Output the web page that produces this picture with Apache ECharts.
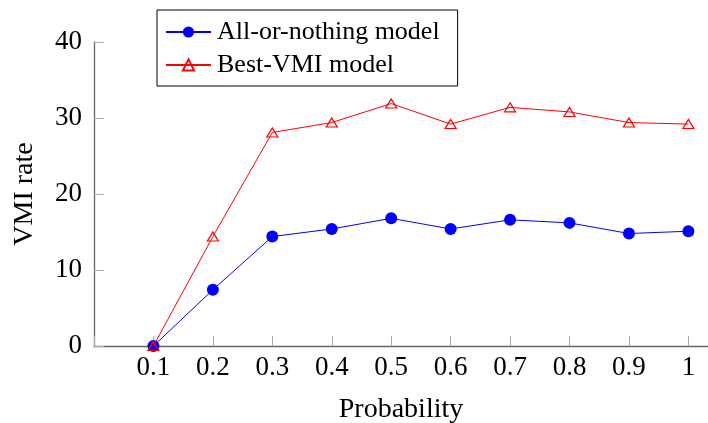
<!DOCTYPE html>
<html>
<head>
<meta charset="utf-8">
<script src="https://cdn.jsdelivr.net/npm/echarts@6/dist/echarts.min.js"></script>
<style>
  html, body { margin: 0; padding: 0; background: #fff; }
  #chart { width: 708px; height: 423px; }
</style>
</head>
<body>
<div id="chart"></div>
<script>
// Probability values on the horizontal axis
const probabilities = [0.1, 0.2, 0.3, 0.4, 0.5, 0.6, 0.7, 0.8, 0.9, 1.0];
// VMI rate for each model
const allOrNothing = [0, 7.4, 14.4, 15.4, 16.8, 15.4, 16.6, 16.2, 14.8, 15.1];
const bestVmi = [0, 14.4, 28.1, 29.4, 31.9, 29.2, 31.4, 30.8, 29.4, 29.2];
// Axis tick labels
const xTickLabels = ['0.1', '0.2', '0.3', '0.4', '0.5', '0.6', '0.7', '0.8', '0.9', '1'];
const yTickLabels = ['0', '10', '20', '30', '40'];

const FONT = '"Liberation Serif", "Times New Roman", serif';

const chart = echarts.init(document.getElementById('chart'), null, { renderer: 'canvas' });

function xLabel(v) {
  const i = probabilities.findIndex(p => Math.abs(p - v) < 1e-6);
  return i >= 0 ? xTickLabels[i] : '';
}
function yLabel(v) {
  const i = yTickLabels.findIndex(t => Math.abs(+t - v) < 1e-6);
  return i >= 0 ? yTickLabels[i] : '';
}

chart.setOption({
  animation: false,
  backgroundColor: '#ffffff',
  textStyle: { fontFamily: FONT },
  grid: { left: 94, right: 0, top: 42, bottom: 77, containLabel: false, outerBoundsMode: 'none' },
  legend: {
    orient: 'vertical',
    left: 157,
    top: 10,
    padding: [8, 18, 7, 8],
    borderColor: '#000',
    borderWidth: 1,
    backgroundColor: '#fff',
    itemWidth: 45,
    itemHeight: 14,
    itemGap: 5,
    textStyle: { fontFamily: FONT, fontSize: 26, color: '#000', lineHeight: 28, padding: [0, 0, 0, 1] },
    data: ['All-or-nothing model', 'Best-VMI model']
  },
  xAxis: {
    type: 'value',
    min: 0,
    max: 1.033,
    interval: 0.1,
    name: 'Probability',
    nameLocation: 'middle',
    nameGap: 50,
    nameTextStyle: { fontFamily: FONT, fontSize: 28, color: '#000' },
    axisLine: { show: true, lineStyle: { color: '#666', width: 1.3 } },
    axisTick: { show: true, inside: true, length: 10, lineStyle: { color: '#aaa', width: 1 } },
    axisLabel: { formatter: xLabel, fontFamily: FONT, fontSize: 27, color: '#000', margin: 8, showMaxLabel: false },
    splitLine: { show: false }
  },
  yAxis: {
    type: 'value',
    min: 0,
    max: 40,
    interval: 10,
    name: 'VMI rate',
    nameLocation: 'middle',
    nameGap: 55,
    nameRotate: 90,
    nameTextStyle: { fontFamily: FONT, fontSize: 28, color: '#000' },
    axisLine: { show: true, lineStyle: { color: '#666', width: 1.3 } },
    axisTick: { show: true, inside: true, length: 10, lineStyle: { color: '#aaa', width: 1 } },
    axisLabel: { formatter: yLabel, fontFamily: FONT, fontSize: 27, color: '#000', margin: 12 },
    splitLine: { show: false }
  },
  series: [
    {
      name: 'All-or-nothing model',
      type: 'line',
      data: probabilities.map((p, i) => [p, allOrNothing[i]]),
      symbol: 'circle',
      symbolSize: 12,
      color: '#0000ff',
      lineStyle: { color: '#0000ff', width: 1 },
      itemStyle: { color: '#0000ff' },
      z: 2
    },
    {
      name: 'Best-VMI model',
      type: 'line',
      data: probabilities.map((p, i) => [p, bestVmi[i]]),
      symbol: 'triangle',
      symbolSize: [11, 9],
      color: '#ff0000',
      lineStyle: { color: '#ff0000', width: 1 },
      itemStyle: { color: 'rgba(255,255,255,0)', borderColor: '#ff0000', borderWidth: 1.2 },
      z: 3
    }
  ]
});
</script>
</body>
</html>
